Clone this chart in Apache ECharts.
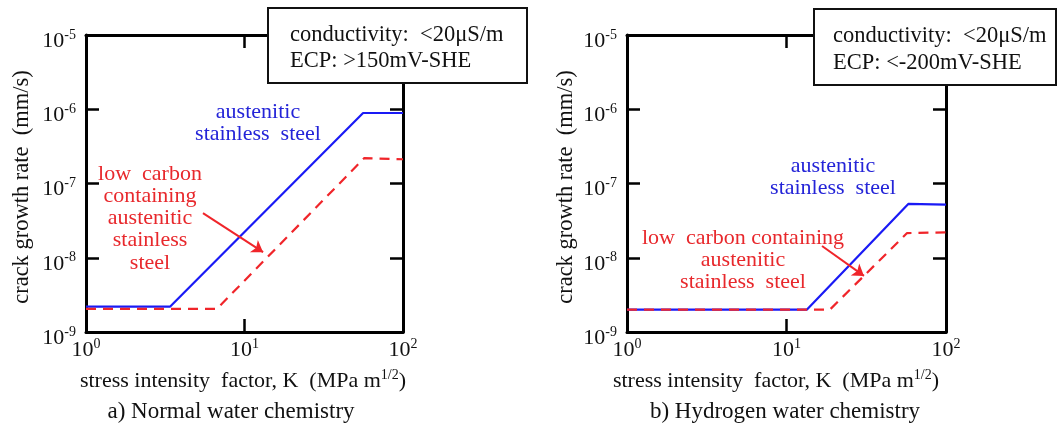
<!DOCTYPE html>
<html><head><meta charset="utf-8">
<script src="https://cdn.jsdelivr.net/npm/echarts@6/dist/echarts.min.js"></script>
<style>html,body{margin:0;padding:0;background:#fff}#c{width:1061px;height:426px}</style>
</head><body><div id="c"></div>
<script>
// Stress intensity factor K (MPa m^1/2) and crack growth rate (mm/s) ranges
const kRange = [1, 100];
const rateRange = [1e-9, 1e-5];

// a) Normal water chemistry: [K, crack growth rate]
const normalStainless = [[1, 2.2e-9], [3.4, 2.2e-9], [56, 8.9e-7], [100, 8.9e-7]];
const normalLowCarbon = [[1, 2.05e-9], [6.7, 2.05e-9], [57, 2.2e-7], [100, 2.12e-7]];

// b) Hydrogen water chemistry: [K, crack growth rate]
const hydrogenStainless = [[1, 2.0e-9], [13.4, 2.0e-9], [58, 5.3e-8], [100, 5.2e-8]];
const hydrogenLowCarbon = [[1, 2.0e-9], [18.7, 2.0e-9], [57, 2.15e-8], [100, 2.2e-8]];

// pointer arrows from the low-carbon labels to their curves: [start, end] as [K, rate]
const normalArrow = [[5.47, 4.0e-8], [13.1, 1.19e-8]];
const hydrogenArrow = [[16.7, 1.44e-8], [30.6, 5.7e-9]];

const panelTitles = ['a) Normal water chemistry', 'b) Hydrogen water chemistry'];
const conditionLines = [
  ['conductivity:  <20\u03bcS/m', 'ECP: >150mV-SHE'],
  ['conductivity:  <20\u03bcS/m', 'ECP: <-200mV-SHE']
];
const stainlessLabel = [['austenitic', 'stainless  steel'], ['austenitic', 'stainless  steel']];
const lowCarbonLabel = [
  ['low  carbon', 'containing', 'austenitic', 'stainless', 'steel'],
  ['low  carbon containing', 'austenitic', 'stainless  steel']
];

const FONT = '"Liberation Serif", "Times New Roman", serif';
const BLUE = '#1a1af5';
const RED = '#f0252a';
const BLUE_TXT = '#2424d8';
const RED_TXT = '#e8282c';

const grids = [
  { left: 86, top: 35, width: 317, height: 297 },
  { left: 627, top: 35, width: 319, height: 297 }
];

const richPow = {
  b: { fontFamily: FONT, fontSize: 22, color: '#111', lineHeight: 26 },
  s: { fontFamily: FONT, fontSize: 14, color: '#111', lineHeight: 14, verticalAlign: 'top' }
};
function powLabel(v) {
  const e = Math.round(Math.log10(v));
  return '{b|10}{s|' + e + '}';
}

function axisBase(gi, range) {
  return {
    type: 'log', logBase: 10, min: range[0], max: range[1], gridIndex: gi,
    axisLine: { show: true, onZero: false, lineStyle: { color: '#000', width: 3 } },
    axisTick: { show: true, inside: true, length: 13, lineStyle: { color: '#000', width: 2.5 } },
    minorTick: { show: false }, splitLine: { show: false }
  };
}

const xAxis = [];
const yAxis = [];
[0, 1].forEach(gi => {
  xAxis.push(Object.assign(axisBase(gi, kRange), {
    position: 'bottom',
    axisLabel: { margin: 5, formatter: powLabel, rich: richPow }
  }));
  xAxis.push(Object.assign(axisBase(gi, kRange), { position: 'top', axisLabel: { show: false } }));
  yAxis.push(Object.assign(axisBase(gi, rateRange), {
    position: 'left',
    axisLabel: { margin: 10, formatter: powLabel, rich: richPow, padding: [12, 0, 0, 0] }
  }));
  yAxis.push(Object.assign(axisBase(gi, rateRange), { position: 'right', axisLabel: { show: false } }));
});

function arrowLine(pts) {
  return {
    silent: true, symbol: ['none', 'arrow'], symbolSize: 11,
    lineStyle: { color: RED, width: 2, type: 'solid' },
    label: { show: false }, emphasis: { disabled: true },
    data: [[{ coord: pts[0] }, { coord: pts[1] }]]
  };
}

function curve(gi, data, color, dashed, arrow) {
  const s = {
    type: 'line', xAxisIndex: gi * 2, yAxisIndex: gi * 2, data: data,
    showSymbol: false, symbol: 'none', silent: true,
    lineStyle: { color: color, width: 2.2, type: dashed ? [10, 7] : 'solid' },
    z: dashed ? 4 : 3
  };
  if (arrow) s.markLine = arrowLine(arrow);
  return s;
}

const series = [
  curve(0, normalStainless, BLUE, false),
  curve(0, normalLowCarbon, RED, true, normalArrow),
  curve(1, hydrogenStainless, BLUE, false),
  curve(1, hydrogenLowCarbon, RED, true, hydrogenArrow)
];

function txt(x, y, text, opts) {
  opts = opts || {};
  return {
    type: 'text', x: x, y: y, rotation: opts.rotation || 0, z: 120,
    style: {
      text: text, fill: opts.fill || '#111',
      font: (opts.size || 22) + 'px ' + FONT,
      align: opts.align || 'center', verticalAlign: 'middle',
      textAlign: opts.align || 'center', textVerticalAlign: 'middle',
      rich: opts.rich
    }
  };
}

function stack(cx, cy, lines, lh, fill) {
  return lines.map((l, i) => txt(cx, cy + i * lh, l, { fill: fill }));
}

const supRich = {
  n: { fontFamily: FONT, fontSize: 22, color: '#111', lineHeight: 26 },
  s: { fontFamily: FONT, fontSize: 14, color: '#111', lineHeight: 14, verticalAlign: 'top' }
};
const kTitle = '{n|stress intensity  factor, K  (MPa m}{s|1/2}{n|)}';

const graphic = [
  // condition boxes
  { type: 'rect', z: 110, shape: { x: 268, y: 8, width: 259, height: 75 }, style: { fill: '#fff', stroke: '#111', lineWidth: 2 } },
  { type: 'rect', z: 110, shape: { x: 814, y: 9, width: 242, height: 76 }, style: { fill: '#fff', stroke: '#111', lineWidth: 2 } },
  txt(290, 35, conditionLines[0][0], { align: 'left', size: 22.5 }),
  txt(290, 61, conditionLines[0][1], { align: 'left', size: 22.5 }),
  txt(833, 36, conditionLines[1][0], { align: 'left', size: 22.5 }),
  txt(833, 63, conditionLines[1][1], { align: 'left', size: 22.5 }),
  // axis titles
  txt(22, 187, 'crack growth rate  (mm/s)', { rotation: Math.PI / 2, size: 22.5 }),
  txt(566, 187, 'crack growth rate  (mm/s)', { rotation: Math.PI / 2, size: 22.5 }),
  txt(243, 381, kTitle, { rich: supRich }),
  txt(776, 381, kTitle, { rich: supRich }),
  // panel captions
  txt(231, 412, panelTitles[0], { size: 23 }),
  txt(785, 412, panelTitles[1], { size: 23 })
]
  .concat(stack(258, 112, stainlessLabel[0], 22, BLUE_TXT))
  .concat(stack(150, 174, lowCarbonLabel[0], 22.2, RED_TXT))
  .concat(stack(833, 166, stainlessLabel[1], 22, BLUE_TXT))
  .concat(stack(743, 238, lowCarbonLabel[1], 22, RED_TXT));

const chart = echarts.init(document.getElementById('c'), null, { renderer: 'canvas' });
chart.setOption({
  animation: false,
  backgroundColor: '#fff',
  grid: grids,
  xAxis: xAxis,
  yAxis: yAxis,
  series: series,
  graphic: graphic
});
</script>
</body></html>
